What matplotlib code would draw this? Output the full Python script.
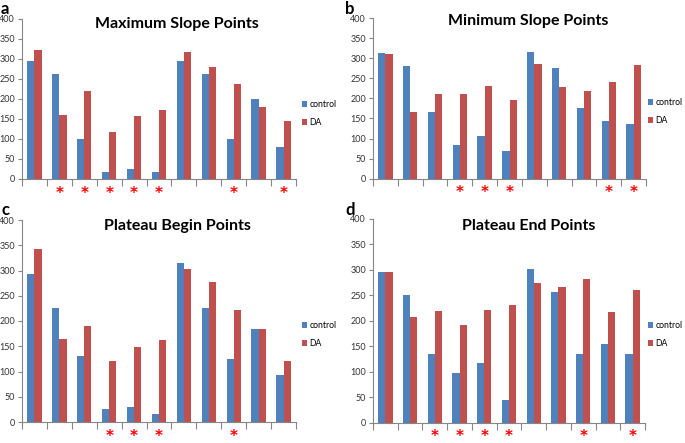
import matplotlib
matplotlib.use("Agg")
import matplotlib.pyplot as plt
import numpy as np
from matplotlib.transforms import blended_transform_factory, offset_copy

plt.rcParams['font.family'] = ['Lato', 'DejaVu Sans']

titles = ["Maximum Slope Points", "Minimum Slope Points",
          "Plateau Begin Points", "Plateau End Points"]
panel_labels = ["a", "b", "c", "d"]
series_names = ["control", "DA"]

max_control = [295, 263, 99, 17, 25, 17, 295, 263, 99, 200, 80]
max_da = [322, 161, 220, 118, 157, 173, 317, 280, 237, 180, 144]
max_sig = [2, 3, 4, 5, 6, 9, 11]

min_control = [314, 281, 167, 83, 107, 70, 316, 276, 175, 144, 135]
min_da = [311, 167, 211, 210, 232, 197, 285, 228, 218, 240, 283]
min_sig = [4, 5, 6, 10, 11]

pb_control = [293, 226, 130, 25, 30, 15, 314, 226, 124, 184, 94]
pb_da = [343, 165, 190, 120, 148, 162, 302, 278, 221, 185, 120]
pb_sig = [4, 5, 6, 9]

pe_control = [295, 251, 135, 97, 117, 45, 301, 256, 135, 155, 135]
pe_da = [296, 207, 220, 191, 222, 231, 274, 267, 283, 217, 261]
pe_sig = [3, 4, 5, 6, 9, 11]

yticks = [0, 50, 100, 150, 200, 250, 300, 350, 400]

panels = [
    (max_control, max_da, max_sig),
    (min_control, min_da, min_sig),
    (pb_control, pb_da, pb_sig),
    (pe_control, pe_da, pe_sig),
]

W, H = 685, 443
fig = plt.figure(figsize=(W / 100, H / 100), dpi=100)

# pixel boxes: left, right, top, bottom
boxes = [(22, 296, 19, 179), (373, 646, 18.5, 178.5),
         (22, 296, 220, 422), (373, 645, 219, 422.5)]
title_pos = [(177, 24), (528, 21), (177, 226), (529, 226)]
label_pos = [(1, 9), (345, 9), (1, 210), (345, 210)]
legend_pos = [(302, 107), (648, 105), (302, 328), (648, 328)]

blue = "#4F81BD"
red = "#C0504D"
axcol = "#868686"

for i, (ctrl, da, sig) in enumerate(panels):
    l, r, t, b = boxes[i]
    ax = fig.add_axes([l / W, 1 - b / H, (r - l) / W, (b - t) / H])
    n = len(ctrl)
    x = np.arange(n)
    w = 0.29
    ax.bar(x - w / 2, ctrl, width=w, color=blue, label=series_names[0])
    ax.bar(x + w / 2, da, width=w, color=red, label=series_names[1])
    ax.set_xlim(-0.5, n - 0.5)
    ax.set_ylim(0, 400)
    ax.set_yticks(yticks)
    ax.set_yticklabels([str(v) for v in yticks], fontsize=6.5, color="#333333")
    ax.set_xticks(np.arange(n + 1) - 0.5)
    ax.set_xticklabels([])
    ax.tick_params(axis='x', length=5, width=0.8, color=axcol, direction='out')
    ax.tick_params(axis='y', length=3, width=0.8, color=axcol, direction='out', pad=2)
    for s in ['top', 'right']:
        ax.spines[s].set_visible(False)
    for s in ['left', 'bottom']:
        ax.spines[s].set_color(axcol)
        ax.spines[s].set_linewidth(0.8)
    trans = blended_transform_factory(ax.transData, ax.transAxes)
    trans = offset_copy(trans, fig=fig, x=0, y=-19, units='dots')
    for g in sig:
        ax.text(g - 1, 0, "*", transform=trans, color="#FF0000",
                fontsize=11, ha='center', va='baseline', fontweight='bold',
                family='DejaVu Sans')
    # title
    tx, ty = title_pos[i]
    fig.text(tx / W, 1 - ty / H, titles[i], fontsize=11.5, fontweight='bold',
             ha='center', va='center')
    px, py = label_pos[i]
    fig.text(px / W, 1 - py / H, panel_labels[i], fontsize=12, fontweight='bold',
             ha='left', va='center')
    lx, ly = legend_pos[i]
    ax.legend(loc='upper left', bbox_to_anchor=(lx / W, 1 - (ly - 7) / H),
              bbox_transform=fig.transFigure, frameon=False, fontsize=6.2,
              handlelength=0.6, handleheight=0.6, handletextpad=0.3,
              labelspacing=1.05, borderaxespad=0, borderpad=0)

fig.savefig("out.png", dpi=100)
